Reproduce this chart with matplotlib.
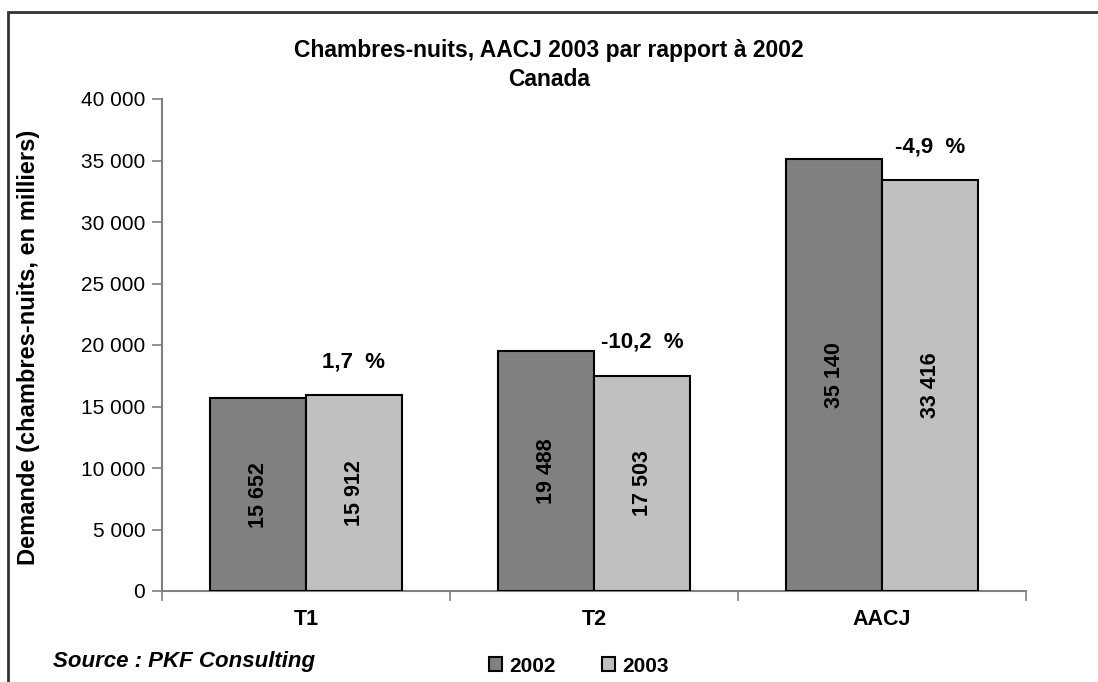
import matplotlib.pyplot as plt
from matplotlib.patches import Rectangle
from matplotlib.ticker import FuncFormatter, FixedLocator
import numpy as np

plt.rcParams["font.family"] = ["Liberation Sans", "DejaVu Sans"]

CATEGORIES = ["T1", "T2", "AACJ"]
VALUES_2002 = [15652, 19488, 35140]
VALUES_2003 = [15912, 17503, 33416]
CHANGE_LABELS = ["1,7  %", "-10,2  %", "-4,9  %"]
SERIES_NAMES = ["2002", "2003"]

DARK = "#808080"
LIGHT = "#C0C0C0"
AXIS_GRAY = "#808080"


def _fmt_space(value, _pos=None):
    return f"{int(round(value)):,}".replace(",", " ")


fig = plt.figure(figsize=(10.98, 6.82), dpi=100)
fig.patch.set_facecolor("white")
ax = fig.add_axes([162 / 1098, 1 - 591 / 682, (1026 - 162) / 1098, (591 - 99) / 682])

x = np.arange(len(CATEGORIES))
w = 1 / 3
bars_a = ax.bar(x - w / 2, VALUES_2002, width=w, color=DARK, edgecolor="black", linewidth=1.5,
                label=SERIES_NAMES[0], zorder=3)
bars_b = ax.bar(x + w / 2, VALUES_2003, width=w, color=LIGHT, edgecolor="black", linewidth=1.5,
                label=SERIES_NAMES[1], zorder=3)

ax.set_xlim(-0.5, len(CATEGORIES) - 0.5)
ax.set_ylim(0, 40000)
ax.yaxis.set_major_locator(FixedLocator(np.arange(0, 40001, 5000)))
ax.yaxis.set_major_formatter(FuncFormatter(_fmt_space))
ax.set_xticks(x)
ax.set_xticklabels(CATEGORIES, fontsize=15.5, fontweight="bold")
ax.tick_params(axis="x", length=0, pad=13)
ax.xaxis.set_minor_locator(FixedLocator(np.arange(-0.5, len(CATEGORIES), 1)))
ax.tick_params(axis="x", which="minor", length=7, width=1.2, color=AXIS_GRAY, direction="out")
ax.tick_params(axis="y", length=7, width=1.2, color=AXIS_GRAY, direction="out", labelsize=15, pad=5)

for side in ("top", "right"):
    ax.spines[side].set_visible(False)
for side in ("left", "bottom"):
    ax.spines[side].set_color(AXIS_GRAY)
    ax.spines[side].set_linewidth(1.5)

fig.text(29 / 1098, 1 - 347 / 682, "Demande (chambres-nuits, en milliers)", rotation=90,
         ha="center", va="center", fontsize=17, fontweight="bold")

for bars, vals in ((bars_a, VALUES_2002), (bars_b, VALUES_2003)):
    for b, v in zip(bars, vals):
        ax.text(b.get_x() + b.get_width() / 2, v / 2, _fmt_space(v), rotation=90,
                ha="center", va="center", fontsize=15.5, fontweight="bold", zorder=4)

for b, lab in zip(bars_b, CHANGE_LABELS):
    ax.annotate(lab, (b.get_x() + b.get_width() / 2, b.get_height()), xytext=(0, 24),
                textcoords="offset points", ha="center", va="center",
                fontsize=16, fontweight="bold")

fig.text(0.5, 1 - 50 / 682, "Chambres-nuits, AACJ 2003 par rapport à 2002", ha="center", va="center",
         fontsize=16.5, fontweight="bold")
fig.text(0.5, 1 - 80 / 682, "Canada", ha="center", va="center", fontsize=16.5, fontweight="bold")
fig.text(53 / 1098, 1 - 662 / 682, "Source : PKF Consulting", ha="left", va="center",
         fontsize=16, fontweight="bold", style="italic")

leg = fig.legend(handles=[bars_a, bars_b], labels=SERIES_NAMES, loc="center left",
                 bbox_to_anchor=(474 / 1098, 1 - 666 / 682), ncol=2, frameon=False,
                 prop={"size": 15, "weight": "bold"}, handlelength=0.65, handleheight=0.65,
                 handletextpad=0.35, columnspacing=2.2, borderpad=0.2)

fig.patches.append(Rectangle((8 / 1098, -0.1), 1.2, 1.1 - 12 / 682, transform=fig.transFigure,
                             fill=False, edgecolor="#333333", linewidth=2))

fig.savefig("out.png", dpi=100, facecolor="white")
